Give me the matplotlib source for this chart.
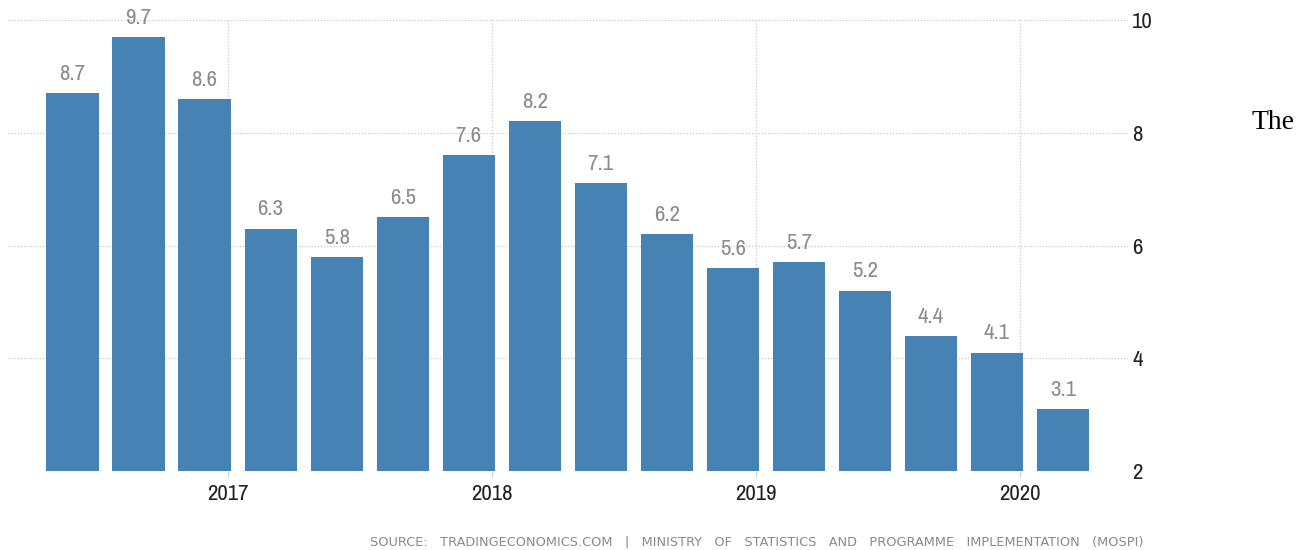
import matplotlib
matplotlib.use("Agg")
import matplotlib.pyplot as plt
from matplotlib import font_manager

values = [8.7, 9.7, 8.6, 6.3, 5.8, 6.5, 7.6, 8.2, 7.1, 6.2, 5.6, 5.7, 5.2, 4.4, 4.1, 3.1]
year_labels = ["2017", "2018", "2019", "2020"]
year_positions = [2.35, 6.35, 10.35, 14.35]
y_ticks = [2, 4, 6, 8, 10]
source_words = ["SOURCE:", "TRADINGECONOMICS.COM", "|", "MINISTRY", "OF", "STATISTICS",
                "AND", "PROGRAMME", "IMPLEMENTATION", "(MOSPI)"]

names = {f.name for f in font_manager.fontManager.ttflist}
narrow = "DejaVu Sans"
for cand in ["Archivo Narrow", "Asap Condensed", "Barlow Semi Condensed"]:
    if cand in names:
        narrow = cand
        break

W, H = 1304, 550
fig = plt.figure(figsize=(W / 100, H / 100), dpi=100)
left, right, top, bottom = 8, 1128, 20, 471
ax = fig.add_axes([left / W, 1 - bottom / H, (right - left) / W, (bottom - top) / H])

x = list(range(len(values)))
ax.bar(x, values, width=0.79, color="#4682B4", zorder=3)
ax.set_ylim(2, 10)
ax.set_xlim(-0.977, 15.985)

for xi, v in zip(x, values):
    ax.annotate(f"{v:.1f}", (xi, v), xytext=(0, 9.5), textcoords="offset points",
                ha="center", va="baseline", fontsize=16.5, color="#8c8c8c",
                family=narrow, zorder=4)

ax.yaxis.tick_right()
ax.set_yticks(y_ticks)
ax.set_yticklabels([str(t) for t in y_ticks], family=narrow, fontsize=16.5, color="#222222")
ax.tick_params(axis="y", length=0, pad=3)

ax.set_xticks(year_positions)
ax.set_xticklabels(year_labels, family=narrow, fontsize=16.5, color="#222222")
ax.tick_params(axis="x", length=4, width=0.8, color="#cccccc", pad=5)

ax.grid(True, axis="both", linestyle=(0, (1, 1.5)), color="#c8c8c8", linewidth=0.9, zorder=0)
for s in ax.spines.values():
    s.set_visible(False)

fig.text(1143 / W, 1 - 545 / H, "   ".join(source_words), ha="right", va="baseline",
         fontsize=9.25, color="#8a8a8a", family="DejaVu Sans")
fig.text(1252 / W, 1 - 129 / H, "The", ha="left", va="baseline",
         fontsize=20, color="#000000", family="Liberation Serif")

fig.savefig("out.png", dpi=100)
